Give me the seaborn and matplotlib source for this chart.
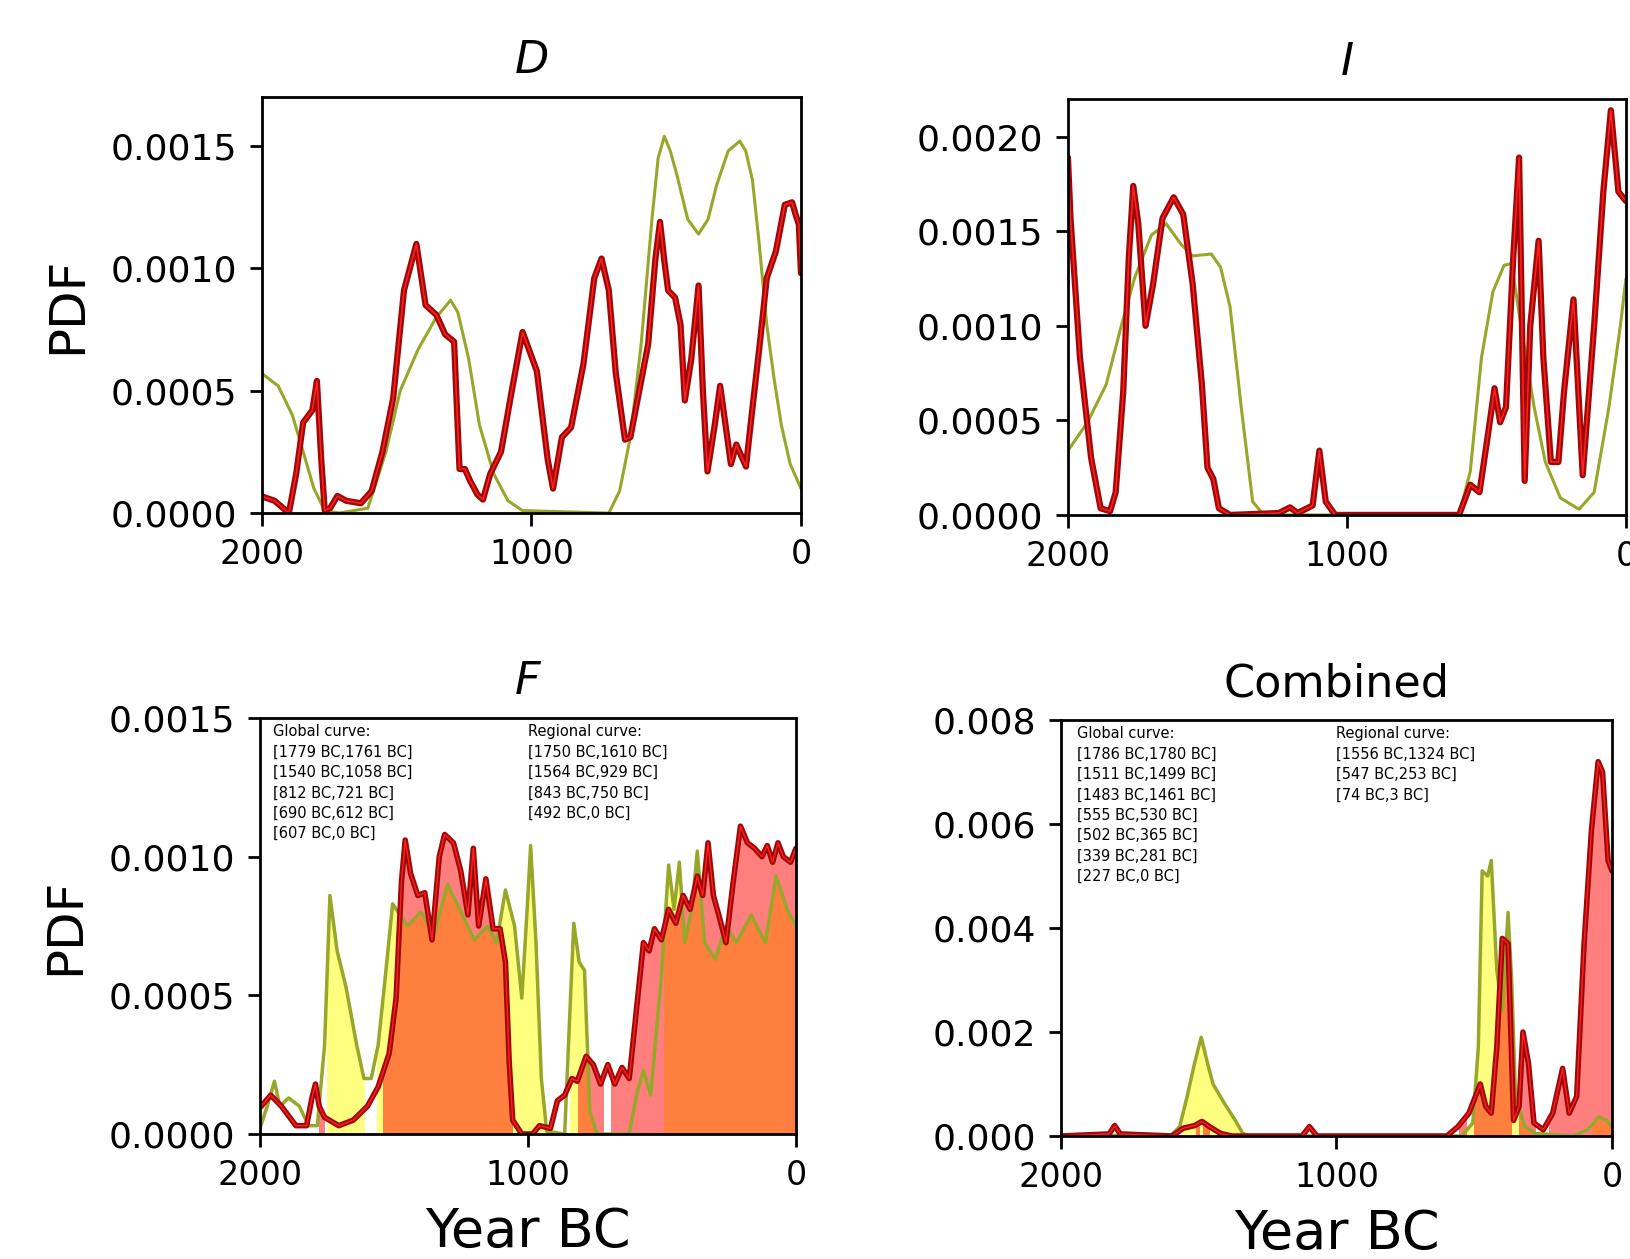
import numpy as np
import pandas as pd
import matplotlib
matplotlib.use("Agg")
import matplotlib.pyplot as plt
import seaborn as sns
from matplotlib.patches import Rectangle
from matplotlib.ticker import FormatStrFormatter

sns.set_style("ticks")
plt.rcParams['font.family'] = ['DejaVu Sans']
plt.rcParams.update({'text.color': 'black', 'axes.labelcolor': 'black',
                     'xtick.color': 'black', 'ytick.color': 'black', 'axes.edgecolor': 'black'})

# ---- panel D ----
d_glob_year = [2000, 1953, 1900, 1873, 1847, 1813, 1796, 1780, 1767, 1747, 1720, 1687, 1633, 1593, 1553, 1513,
               1473, 1427, 1393, 1353, 1320, 1287, 1267, 1247, 1227, 1200, 1180, 1153, 1113, 1073, 1033, 980,
               940, 920, 887, 853, 807, 767, 740, 713, 687, 653, 633, 593, 567, 540, 523, 507, 493, 467, 447,
               431, 407, 380, 364, 347, 320, 300, 280, 260, 240, 220, 204, 180, 153, 127, 93, 60, 33, 20, 8, 0]
d_glob_pdf = [0.000068, 0.00005, 0.0, 0.00016, 0.00037, 0.00042, 0.00054, 0.00022, 0.00001, 0.00002, 0.00007,
              0.00005, 0.00004, 0.00009, 0.00025, 0.00047, 0.00091, 0.0011, 0.00085, 0.00081, 0.00073, 0.0007,
              0.00018, 0.00018, 0.00013, 0.000075, 0.000055, 0.00016, 0.00025, 0.0005, 0.00074, 0.00058,
              0.00022, 0.0001, 0.00031, 0.00035, 0.00061, 0.00096, 0.00104, 0.00091, 0.00057, 0.0003, 0.00031,
              0.00054, 0.00069, 0.00104, 0.00119, 0.00103, 0.00091, 0.00088, 0.00077, 0.00046, 0.00063,
              0.00093, 0.0005, 0.00017, 0.00036, 0.00052, 0.00036, 0.0002, 0.00028, 0.00023, 0.00019,
              0.00043, 0.00069, 0.00096, 0.00107, 0.00126, 0.00127, 0.00122, 0.00118, 0.00098]
d_reg_year = [2000, 1940, 1887, 1847, 1807, 1767, 1713, 1607, 1540, 1487, 1420, 1353, 1300, 1273, 1233, 1193,
              1140, 1087, 1033, 713, 673, 633, 593, 553, 530, 507, 485, 460, 420, 380, 345, 313, 270, 227,
              205, 180, 155, 127, 100, 73, 40, 0]
d_reg_pdf = [0.00057, 0.00052, 0.0004, 0.00025, 0.0001, 0.00001, 0.0, 0.00002, 0.00025, 0.0005, 0.00067,
             0.0008, 0.00087, 0.00082, 0.00063, 0.00036, 0.00016, 0.00005, 0.00001, 0.0, 0.00009, 0.00031,
             0.00069, 0.0012, 0.00145, 0.00154, 0.00148, 0.00138, 0.0012, 0.00114, 0.0012, 0.00134, 0.00148,
             0.00152, 0.00148, 0.00136, 0.0011, 0.00077, 0.00055, 0.00036, 0.0002, 0.0001]

# ---- panel I ----
i_glob_year = [2000, 1991, 1957, 1917, 1883, 1849, 1829, 1802, 1782, 1766, 1748, 1722, 1695, 1661, 1621, 1587,
               1553, 1520, 1500, 1479, 1459, 1419, 1244, 1204, 1177, 1123, 1099, 1076, 1042, 598, 558, 525,
               498, 471, 451, 430, 404, 383, 363, 343, 313, 296, 269, 242, 222, 188, 155, 114, 81, 54, 27, 0]
i_glob_pdf = [0.00189, 0.00157, 0.00083, 0.0003, 0.000035, 0.00002, 0.00012, 0.00065, 0.00136, 0.00174,
              0.00154, 0.001, 0.00122, 0.00157, 0.00168, 0.00159, 0.00122, 0.00069, 0.00025, 0.00019,
              0.000035, 0.0, 0.00001, 0.00004, 0.00001, 0.00005, 0.00034, 0.00007, 0.0, 0.0, 0.00016,
              0.00012, 0.00039, 0.00067, 0.00049, 0.00057, 0.00136, 0.00189, 0.00018, 0.001, 0.00145,
              0.00083, 0.00028, 0.00028, 0.00065, 0.00114, 0.00021, 0.001, 0.00171, 0.00214, 0.00171, 0.00166]
i_reg_year = [2000, 1930, 1863, 1809, 1762, 1701, 1648, 1594, 1553, 1486, 1453, 1419, 1379, 1338, 1298, 598,
              558, 518, 477, 437, 410, 370, 329, 289, 235, 168, 114, 61, 20, 0]
i_reg_pdf = [0.00034, 0.00049, 0.00069, 0.001, 0.00125, 0.00148, 0.00154, 0.00143, 0.00137, 0.00138,
             0.00131, 0.0011, 0.00057, 0.00007, 0.0, 0.0, 0.00023, 0.00083, 0.00118, 0.00132, 0.00133,
             0.00094, 0.00057, 0.00028, 0.00009, 0.00003, 0.00012, 0.00057, 0.001, 0.00125]

# ---- panel F ----
f_glob_year = [2000, 1960, 1920, 1866, 1826, 1806, 1793, 1779, 1759, 1706, 1652, 1599, 1559, 1518, 1492, 1472,
               1458, 1438, 1411, 1385, 1358, 1331, 1311, 1278, 1251, 1224, 1204, 1184, 1157, 1130, 1104, 1084,
               1070, 1057, 1023, 983, 957, 916, 890, 863, 836, 816, 783, 756, 729, 702, 676, 649, 622, 595,
               569, 548, 528, 502, 475, 448, 421, 395, 368, 348, 328, 308, 288, 261, 234, 207, 181, 154, 127,
               107, 87, 67, 47, 20, 0]
f_glob_pdf = [0.000095, 0.00014, 0.0001, 0.00003, 0.00003, 0.00013, 0.00018, 0.0001, 0.00006, 0.00003,
              0.00005, 0.0001, 0.00017, 0.00029, 0.00049, 0.00091, 0.00106, 0.00094, 0.00086, 0.00087, 0.0007,
              0.001, 0.00108, 0.00105, 0.00095, 0.00079, 0.00103, 0.00075, 0.00092, 0.00074, 0.00074, 0.00062,
              0.00026, 0.00005, 0.0, 0.0, 0.00003, 0.00002, 0.00012, 0.00014, 0.0002, 0.00019, 0.00028,
              0.00025, 0.00018, 0.00025, 0.00018, 0.00024, 0.0002, 0.00045, 0.00069, 0.00066, 0.00074,
              0.0007, 0.00081, 0.00076, 0.00086, 0.00081, 0.00093, 0.00086, 0.00105, 0.00086, 0.00079,
              0.00069, 0.00091, 0.00111, 0.00105, 0.00103, 0.001, 0.00104, 0.00098, 0.00105, 0.001, 0.00098,
              0.00103]
f_reg_year = [2000, 1973, 1946, 1926, 1893, 1853, 1819, 1786, 1759, 1739, 1712, 1679, 1639, 1612, 1585, 1559,
              1532, 1505, 1450, 1400, 1350, 1300, 1250, 1200, 1150, 1117, 1084, 1050, 1023, 1003, 990, 970,
              950, 930, 863, 843, 829, 809, 789, 769, 742, 622, 595, 569, 542, 502, 475, 455, 435, 415, 388,
              368, 341, 301, 261, 221, 167, 114, 74, 33, 0]
f_reg_pdf = [0.00002, 0.0001, 0.00019, 0.0001, 0.00013, 0.0001, 0.00003, 0.00003, 0.00032, 0.00086, 0.00066,
             0.00053, 0.00032, 0.0002, 0.0002, 0.00032, 0.00057, 0.00083, 0.00075, 0.0008, 0.00072, 0.0009,
             0.0008, 0.0007, 0.00075, 0.00069, 0.00088, 0.00075, 0.00049, 0.00081, 0.00104, 0.00069, 0.0002,
             0.00001, 0.0, 0.00045, 0.00076, 0.00062, 0.00059, 0.00008, 0.0, 0.0, 0.00014, 0.00023, 0.00014,
             0.00057, 0.00097, 0.00081, 0.00098, 0.00069, 0.00081, 0.00102, 0.00069, 0.00063, 0.00075,
             0.00069, 0.00079, 0.00069, 0.00093, 0.00081, 0.00075]
f_glob_int = [(1779, 1761), (1540, 1058), (812, 721), (690, 612), (607, 0)]
f_reg_int = [(1750, 1610), (1564, 929), (843, 750), (492, 0)]

# ---- panel Combined ----
c_glob_year = [2000, 1825, 1805, 1785, 1596, 1556, 1515, 1488, 1461, 1421, 1380, 1125, 1098, 1071, 599, 559,
               519, 478, 458, 438, 418, 398, 377, 357, 337, 323, 303, 283, 249, 215, 179, 155, 128, 101, 74,
               50, 34, 14, 0]
c_glob_pdf = [0.0, 0.00004, 0.0002, 0.00004, 0.0, 0.00015, 0.0002, 0.00028, 0.00018, 0.00005, 0.0, 0.0,
              0.00018, 0.0, 0.0, 0.00018, 0.00044, 0.001, 0.00057, 0.00044, 0.0017, 0.0038, 0.0037, 0.0003,
              0.00057, 0.002, 0.0014, 0.00025, 0.00012, 0.00044, 0.0013, 0.00044, 0.00076, 0.0037, 0.0059,
              0.0072, 0.007, 0.0053, 0.0051]
c_reg_year = [2000, 1600, 1569, 1542, 1515, 1491, 1468, 1448, 1407, 1367, 1340, 1313, 545, 505, 485, 471, 451,
              438, 418, 398, 377, 364, 350, 316, 276, 141, 88, 47, 20, 0]
c_reg_pdf = [0.0, 0.00002, 0.00018, 0.00076, 0.0014, 0.0019, 0.0014, 0.001, 0.00063, 0.0003, 0.00005, 0.0,
             0.0, 0.00025, 0.0017, 0.0051, 0.005, 0.0053, 0.0032, 0.0024, 0.0043, 0.003, 0.00076, 0.00018,
             0.00005, 0.0, 0.00012, 0.00037, 0.0003, 0.00018]
c_glob_int = [(1786, 1780), (1511, 1499), (1483, 1461), (555, 530), (502, 365), (339, 281), (227, 0)]
c_reg_int = [(1556, 1324), (547, 253), (74, 3)]

OLIVE = "#98a62a"
DARKRED = "#a00808"
RED = "#ff2020"

fig = plt.figure(figsize=(16.31, 12.59), dpi=100)
ax_d = fig.add_axes([0.1606, 0.5925, 0.3305, 0.3304])
ax_i = fig.add_axes([0.6548, 0.5910, 0.3421, 0.3304])
ax_f = fig.add_axes([0.1594, 0.0993, 0.3286, 0.3304])
ax_c = fig.add_axes([0.6505, 0.0977, 0.3378, 0.3304])


def red_line(ax, x, y, lw=4.5):
    sns.lineplot(x=x, y=y, ax=ax, color=DARKRED, lw=lw, estimator=None)
    sns.lineplot(x=x, y=y, ax=ax, color=RED, lw=lw * 0.25, estimator=None)


def fill_intervals(ax, x, y, intervals, color):
    for hi, lo in intervals:
        poly = ax.fill_between(x, 0, y, color=color, alpha=0.5, lw=0)
        rect = Rectangle((lo, 0), hi - lo, 1, transform=ax.transData)
        poly.set_clip_path(rect)


def style(ax, title, ymax, yticks, fmt, italic=True):
    ax.set_xlim(2000, 0)
    ax.set_ylim(0, ymax)
    ax.set_xticks([2000, 1000, 0])
    ax.set_yticks(yticks)
    ax.yaxis.set_major_formatter(FormatStrFormatter(fmt))
    ax.tick_params(length=9, width=2, direction='out', pad=9)
    ax.tick_params(axis='x', labelsize=24)
    ax.tick_params(axis='y', labelsize=26)
    for s in ax.spines.values():
        s.set_linewidth(2)
    ax.set_title(title, fontsize=32, style='italic' if italic else 'normal', pad=17)
    ax.set_xlabel("")
    ax.set_ylabel("")


# D
sns.lineplot(x=d_reg_year, y=d_reg_pdf, ax=ax_d, color=OLIVE, lw=2.2, estimator=None)
red_line(ax_d, d_glob_year, d_glob_pdf)
style(ax_d, "D", 0.0017, [0, 0.0005, 0.001, 0.0015], '%.4f')

# I
sns.lineplot(x=i_reg_year, y=i_reg_pdf, ax=ax_i, color=OLIVE, lw=2.2, estimator=None)
red_line(ax_i, i_glob_year, i_glob_pdf)
style(ax_i, "I", 0.0022, [0, 0.0005, 0.001, 0.0015, 0.002], '%.4f')

# F
fill_intervals(ax_f, f_reg_year, f_reg_pdf, f_reg_int, 'yellow')
sns.lineplot(x=f_reg_year, y=f_reg_pdf, ax=ax_f, color=OLIVE, lw=2.5, estimator=None)
fill_intervals(ax_f, f_glob_year, f_glob_pdf, f_glob_int, 'red')
red_line(ax_f, f_glob_year, f_glob_pdf, lw=4)
style(ax_f, "F", 0.0015, [0, 0.0005, 0.001, 0.0015], '%.4f')

# Combined
fill_intervals(ax_c, c_reg_year, c_reg_pdf, c_reg_int, 'yellow')
sns.lineplot(x=c_reg_year, y=c_reg_pdf, ax=ax_c, color=OLIVE, lw=2.5, estimator=None)
fill_intervals(ax_c, c_glob_year, c_glob_pdf, c_glob_int, 'red')
red_line(ax_c, c_glob_year, c_glob_pdf, lw=4)
style(ax_c, "Combined", 0.008, [0, 0.002, 0.004, 0.006, 0.008], '%.3f', italic=False)


def interval_text(ax, glob_int, reg_int, x0, x1):
    g = "Global curve:\n" + "\n".join(f"[{a} BC,{b} BC]" for a, b in glob_int)
    r = "Regional curve:\n" + "\n".join(f"[{a} BC,{b} BC]" for a, b in reg_int)
    ax.text(x0, 0.985, g, transform=ax.transAxes, va='top', ha='left', fontsize=10.5, linespacing=1.45)
    ax.text(x1, 0.985, r, transform=ax.transAxes, va='top', ha='left', fontsize=10.5, linespacing=1.45)


interval_text(ax_f, f_glob_int, f_reg_int, 0.025, 0.50)
interval_text(ax_c, c_glob_int, c_reg_int, 0.03, 0.50)

ax_d.set_ylabel("PDF", fontsize=36, labelpad=14)
ax_f.set_ylabel("PDF", fontsize=36, labelpad=14)
ax_f.set_xlabel("Year BC", fontsize=39, labelpad=10)
ax_c.set_xlabel("Year BC", fontsize=39, labelpad=10)

fig.savefig("out.png", dpi=100)
